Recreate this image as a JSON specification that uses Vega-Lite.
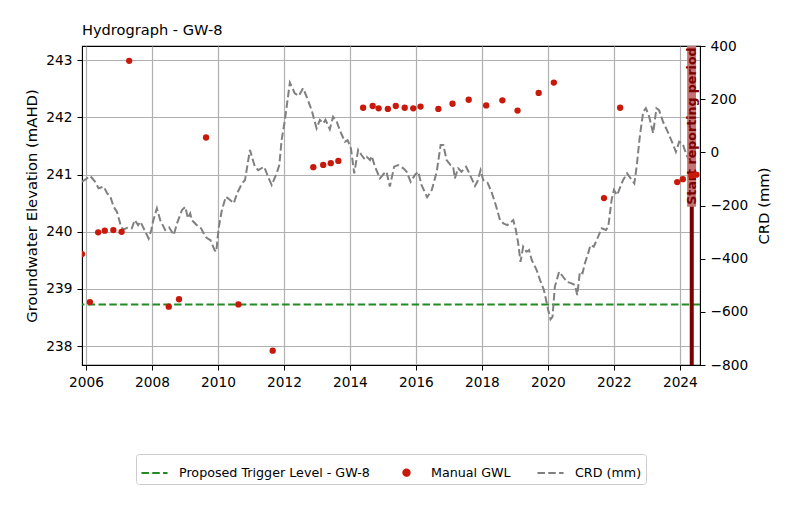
{
  "$schema": "https://vega.github.io/schema/vega-lite/v6.json",
  "width": 618,
  "height": 319,
  "autosize": {"type": "none"},
  "padding": {"left": 82, "top": 46, "right": 88, "bottom": 163},
  "background": "white",
  "config": {
    "font": "DejaVu Sans",
    "view": {"stroke": "black", "strokeWidth": 1.1},
    "axis": {
      "labelFont": "DejaVu Sans", "titleFont": "DejaVu Sans",
      "labelFontSize": 13.7, "titleFontSize": 14.8, "titleFontWeight": "normal",
      "labelColor": "black", "titleColor": "black", "tickColor": "black", "domainColor": "black",
      "tickSize": 5, "tickWidth": 1, "labelPadding": 4,
      "gridColor": "#b0b0b0", "gridWidth": 1.2, "gridOpacity": 1
    }
  },
  "title": {"text": "Hydrograph - GW-8", "anchor": "start", "frame": "group", "fontSize": 14.6, "fontWeight": "normal", "font": "DejaVu Sans", "color": "black", "offset": 1},
  "datasets": {
    "trigger": [{"series": "Proposed Trigger Level - GW-8", "gwl": 238.73}],
    "gwl": [
      {"year": 2005.88, "gwl": 239.61}, {"year": 2006.12, "gwl": 238.77}, {"year": 2006.37, "gwl": 239.99},
      {"year": 2006.57, "gwl": 240.02}, {"year": 2006.83, "gwl": 240.03}, {"year": 2007.08, "gwl": 240.0},
      {"year": 2007.31, "gwl": 242.99}, {"year": 2008.51, "gwl": 238.69}, {"year": 2008.82, "gwl": 238.82},
      {"year": 2009.64, "gwl": 241.65}, {"year": 2010.62, "gwl": 238.73}, {"year": 2011.66, "gwl": 237.92},
      {"year": 2012.89, "gwl": 241.13}, {"year": 2013.19, "gwl": 241.17}, {"year": 2013.42, "gwl": 241.2},
      {"year": 2013.65, "gwl": 241.24}, {"year": 2014.4, "gwl": 242.17}, {"year": 2014.69, "gwl": 242.2},
      {"year": 2014.87, "gwl": 242.16}, {"year": 2015.15, "gwl": 242.15}, {"year": 2015.39, "gwl": 242.2},
      {"year": 2015.66, "gwl": 242.17}, {"year": 2015.92, "gwl": 242.16}, {"year": 2016.14, "gwl": 242.19},
      {"year": 2016.68, "gwl": 242.15}, {"year": 2017.11, "gwl": 242.24}, {"year": 2017.6, "gwl": 242.31},
      {"year": 2018.13, "gwl": 242.21}, {"year": 2018.62, "gwl": 242.3}, {"year": 2019.08, "gwl": 242.12},
      {"year": 2019.72, "gwl": 242.43}, {"year": 2020.18, "gwl": 242.61}, {"year": 2021.7, "gwl": 240.59},
      {"year": 2022.19, "gwl": 242.17}, {"year": 2023.92, "gwl": 240.87}, {"year": 2024.09, "gwl": 240.92},
      {"year": 2024.35, "gwl": 240.98}, {"year": 2024.5, "gwl": 241.0}
    ],
    "crd": [
      {"year": 2005.88, "crd": -111}, {"year": 2006.13, "crd": -89}, {"year": 2006.28, "crd": -111},
      {"year": 2006.38, "crd": -135}, {"year": 2006.54, "crd": -129}, {"year": 2006.64, "crd": -154},
      {"year": 2006.74, "crd": -167}, {"year": 2006.84, "crd": -205}, {"year": 2006.94, "crd": -224},
      {"year": 2007.07, "crd": -282}, {"year": 2007.14, "crd": -290}, {"year": 2007.29, "crd": -282},
      {"year": 2007.39, "crd": -286}, {"year": 2007.48, "crd": -255}, {"year": 2007.58, "crd": -274},
      {"year": 2007.65, "crd": -261}, {"year": 2007.75, "crd": -286}, {"year": 2007.9, "crd": -324},
      {"year": 2007.98, "crd": -292}, {"year": 2008.03, "crd": -261}, {"year": 2008.15, "crd": -211},
      {"year": 2008.25, "crd": -255}, {"year": 2008.4, "crd": -292}, {"year": 2008.52, "crd": -282},
      {"year": 2008.66, "crd": -311}, {"year": 2008.76, "crd": -267}, {"year": 2008.91, "crd": -217},
      {"year": 2009.01, "crd": -205}, {"year": 2009.09, "crd": -248}, {"year": 2009.16, "crd": -230},
      {"year": 2009.21, "crd": -255}, {"year": 2009.36, "crd": -274}, {"year": 2009.49, "crd": -286},
      {"year": 2009.62, "crd": -318}, {"year": 2009.72, "crd": -327}, {"year": 2009.77, "crd": -330},
      {"year": 2009.9, "crd": -368}, {"year": 2009.95, "crd": -374}, {"year": 2010.02, "crd": -286},
      {"year": 2010.12, "crd": -217}, {"year": 2010.24, "crd": -167}, {"year": 2010.37, "crd": -179},
      {"year": 2010.48, "crd": -192}, {"year": 2010.58, "crd": -154}, {"year": 2010.73, "crd": -117},
      {"year": 2010.82, "crd": -104}, {"year": 2010.97, "crd": 9}, {"year": 2011.12, "crd": -54},
      {"year": 2011.22, "crd": -67}, {"year": 2011.4, "crd": -54}, {"year": 2011.52, "crd": -92},
      {"year": 2011.63, "crd": -123}, {"year": 2011.78, "crd": -79}, {"year": 2011.86, "crd": -48},
      {"year": 2011.93, "crd": 46}, {"year": 2012.03, "crd": 122}, {"year": 2012.11, "crd": 197},
      {"year": 2012.18, "crd": 262}, {"year": 2012.33, "crd": 222}, {"year": 2012.45, "crd": 212},
      {"year": 2012.58, "crd": 241}, {"year": 2012.69, "crd": 209}, {"year": 2012.84, "crd": 159},
      {"year": 2012.99, "crd": 90}, {"year": 2013.09, "crd": 122}, {"year": 2013.19, "crd": 109},
      {"year": 2013.26, "crd": 122}, {"year": 2013.39, "crd": 87}, {"year": 2013.49, "crd": 134},
      {"year": 2013.6, "crd": 115}, {"year": 2013.73, "crd": 72}, {"year": 2013.85, "crd": 40},
      {"year": 2013.93, "crd": 46}, {"year": 2014.03, "crd": 15}, {"year": 2014.13, "crd": -79},
      {"year": 2014.25, "crd": 9}, {"year": 2014.35, "crd": -10}, {"year": 2014.45, "crd": -26},
      {"year": 2014.51, "crd": -17}, {"year": 2014.61, "crd": -29}, {"year": 2014.66, "crd": -14},
      {"year": 2014.76, "crd": -54}, {"year": 2014.91, "crd": -98}, {"year": 2015.04, "crd": -79},
      {"year": 2015.11, "crd": -73}, {"year": 2015.21, "crd": -129}, {"year": 2015.34, "crd": -54},
      {"year": 2015.46, "crd": -48}, {"year": 2015.62, "crd": -60}, {"year": 2015.72, "crd": -73},
      {"year": 2015.84, "crd": -111}, {"year": 2015.97, "crd": -85}, {"year": 2016.07, "crd": -73},
      {"year": 2016.17, "crd": -123}, {"year": 2016.34, "crd": -169}, {"year": 2016.48, "crd": -142},
      {"year": 2016.63, "crd": -73}, {"year": 2016.75, "crd": 28}, {"year": 2016.83, "crd": 28},
      {"year": 2016.93, "crd": -29}, {"year": 2017.05, "crd": -48}, {"year": 2017.13, "crd": -54},
      {"year": 2017.18, "crd": -98}, {"year": 2017.28, "crd": -60}, {"year": 2017.38, "crd": -73},
      {"year": 2017.52, "crd": -54}, {"year": 2017.62, "crd": -79}, {"year": 2017.79, "crd": -127},
      {"year": 2017.86, "crd": -111}, {"year": 2017.96, "crd": -67}, {"year": 2018.04, "crd": -104},
      {"year": 2018.17, "crd": -114}, {"year": 2018.29, "crd": -148}, {"year": 2018.42, "crd": -198},
      {"year": 2018.55, "crd": -255}, {"year": 2018.65, "crd": -267}, {"year": 2018.77, "crd": -274},
      {"year": 2018.95, "crd": -255}, {"year": 2019.03, "crd": -292}, {"year": 2019.1, "crd": -342},
      {"year": 2019.17, "crd": -412}, {"year": 2019.25, "crd": -355}, {"year": 2019.35, "crd": -374},
      {"year": 2019.43, "crd": -368}, {"year": 2019.51, "crd": -405}, {"year": 2019.66, "crd": -443},
      {"year": 2019.76, "crd": -480}, {"year": 2019.88, "crd": -518}, {"year": 2020.01, "crd": -593},
      {"year": 2020.08, "crd": -628}, {"year": 2020.14, "crd": -619}, {"year": 2020.21, "crd": -506},
      {"year": 2020.34, "crd": -449}, {"year": 2020.46, "crd": -468}, {"year": 2020.57, "crd": -487},
      {"year": 2020.72, "crd": -493}, {"year": 2020.82, "crd": -499}, {"year": 2020.89, "crd": -537},
      {"year": 2020.97, "crd": -449}, {"year": 2021.05, "crd": -455}, {"year": 2021.12, "crd": -418},
      {"year": 2021.22, "crd": -380}, {"year": 2021.29, "crd": -349}, {"year": 2021.39, "crd": -355},
      {"year": 2021.52, "crd": -318}, {"year": 2021.63, "crd": -286}, {"year": 2021.76, "crd": -292},
      {"year": 2021.83, "crd": -280}, {"year": 2021.93, "crd": -179}, {"year": 2022.0, "crd": -142},
      {"year": 2022.1, "crd": -161}, {"year": 2022.18, "crd": -135}, {"year": 2022.28, "crd": -104},
      {"year": 2022.4, "crd": -79}, {"year": 2022.54, "crd": -104}, {"year": 2022.62, "crd": -117},
      {"year": 2022.69, "crd": -54}, {"year": 2022.79, "crd": 65}, {"year": 2022.89, "crd": 153},
      {"year": 2022.97, "crd": 166}, {"year": 2023.07, "crd": 134}, {"year": 2023.19, "crd": 72},
      {"year": 2023.29, "crd": 166}, {"year": 2023.37, "crd": 159}, {"year": 2023.49, "crd": 115},
      {"year": 2023.65, "crd": 72}, {"year": 2023.78, "crd": 34}, {"year": 2023.88, "crd": 2},
      {"year": 2023.98, "crd": 40}, {"year": 2024.08, "crd": 34}, {"year": 2024.2, "crd": -10},
      {"year": 2024.28, "crd": -29}
    ]
  },
  "layer": [
    {
      "data": {"name": "trigger"},
      "mark": {"type": "rule", "strokeWidth": 2, "strokeDash": [7.5, 3.3]},
      "encoding": {
        "y": {"field": "gwl", "type": "quantitative", "scale": {"domain": [237.67, 243.25], "nice": false, "zero": false}, "axis": null},
        "color": {
          "field": "series", "type": "nominal",
          "scale": {"domain": ["Proposed Trigger Level - GW-8", "Manual GWL", "CRD (mm)"], "range": ["#228b22", "#c8190a", "#808080"]},
          "legend": {
            "orient": "none", "legendX": 54, "legendY": 408, "direction": "horizontal", "title": null,
            "padding": 4, "strokeColor": "#cccccc", "fillColor": "white", "cornerRadius": 3,
            "labelFont": "DejaVu Sans", "labelFontSize": 12.7, "labelColor": "black", "labelLimit": 400,
            "symbolType": "stroke", "symbolSize": 680, "symbolStrokeWidth": 2, "labelOffset": 10, "columnPadding": 22,
            "encode": {
              "symbols": {
                "update": {
                  "shape": {"signal": "datum.value === 'Manual GWL' ? 'circle' : 'stroke'"},
                  "size": {"signal": "datum.value === 'Manual GWL' ? 40 : 680"},
                  "fill": {"signal": "datum.value === 'Manual GWL' ? '#c8190a' : 'transparent'"},
                  "stroke": {"signal": "datum.value === 'Manual GWL' ? 'transparent' : (datum.value === 'CRD (mm)' ? '#999999' : '#228b22')"},
                  "strokeDash": {"signal": "datum.value === 'Manual GWL' ? [1, 0] : [7.5, 3.3]"},
                  "strokeWidth": {"value": 2},
                  "opacity": {"value": 1}
                }
              }
            }
          }
        }
      }
    },
    {
      "data": {"name": "crd"},
      "mark": {"type": "line", "strokeWidth": 2, "strokeDash": [7.5, 3.3], "clip": true},
      "encoding": {
        "x": {"field": "year", "type": "quantitative", "title": null},
        "y": {"field": "crd", "type": "quantitative", "scale": {"domain": [-800, 400], "nice": false, "zero": false},
              "axis": {"orient": "right", "values": [-800, -600, -400, -200, 0, 200, 400], "format": "d", "labelExpr": "replace(datum.label, '-', '\u2212')", "title": "CRD (mm)", "titleAngle": 270, "titleBaseline": "top", "titlePadding": 9, "grid": false, "labelPadding": 5}},
        "color": {"datum": "CRD (mm)", "type": "nominal"}
      }
    },
    {
      "data": {"values": [{}]},
      "mark": {"type": "rule", "color": "#7d0000", "strokeWidth": 4},
      "encoding": {"x": {"datum": 2024.36, "type": "quantitative"}}
    },
    {
      "data": {"values": [{}]},
      "mark": {"type": "rect", "color": "#c47474", "opacity": 1},
      "encoding": {
        "x": {"datum": 2024.22, "type": "quantitative"},
        "x2": {"datum": 2024.49},
        "y": {"datum": -205, "type": "quantitative", "scale": {"domain": [-800, 400], "nice": false, "zero": false}, "axis": null},
        "y2": {"datum": 400}
      }
    },
    {
      "data": {"values": [{}]},
      "mark": {"type": "text", "text": "Start reporting period", "angle": 270, "align": "left", "baseline": "middle", "color": "#7d0000", "font": "DejaVu Sans", "fontSize": 12.6, "fontWeight": "bold"},
      "encoding": {
        "x": {"datum": 2024.36, "type": "quantitative"},
        "y": {"datum": -197, "type": "quantitative", "scale": {"domain": [-800, 400], "nice": false, "zero": false}, "axis": null}
      }
    },
    {
      "data": {"name": "gwl"},
      "mark": {"type": "point", "filled": true, "size": 40, "opacity": 1, "clip": true},
      "encoding": {
        "x": {"field": "year", "type": "quantitative", "scale": {"domain": [2005.88, 2024.61], "nice": false, "zero": false},
              "axis": {"values": [2006, 2008, 2010, 2012, 2014, 2016, 2018, 2020, 2022, 2024], "format": "d", "title": null, "grid": true, "labelPadding": 5}},
        "y": {"field": "gwl", "type": "quantitative", "scale": {"domain": [237.67, 243.25], "nice": false, "zero": false},
              "axis": {"orient": "left", "values": [238, 239, 240, 241, 242, 243], "format": "d", "title": "Groundwater Elevation (mAHD)", "grid": true, "titlePadding": 6, "labelPadding": 5}},
        "color": {"datum": "Manual GWL", "type": "nominal"}
      }
    }
  ],
  "resolve": {"scale": {"y": "independent"}}
}
